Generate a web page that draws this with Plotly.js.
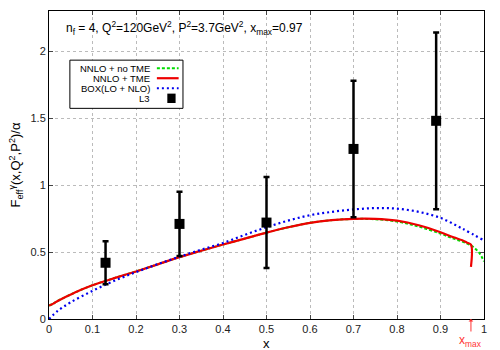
<!DOCTYPE html>
<html>
<head>
<meta charset="utf-8">
<script src="https://cdn.plot.ly/plotly-3.0.1.min.js"></script>
<style>body{margin:0;padding:0;} #plot{width:500px;height:350px;}</style>
</head>
<body>
<div id="plot"></div>
<script>
// NNLO + TME (stops at x_max)
var xTme = [0, 0.01, 0.02, 0.03, 0.05, 0.075, 0.1, 0.15, 0.2, 0.25, 0.3, 0.35, 0.4, 0.45, 0.5, 0.55, 0.6, 0.65, 0.7, 0.75, 0.8, 0.85, 0.9, 0.93, 0.95, 0.96, 0.97, 0.97];
var yTme = [0.10, 0.115, 0.135, 0.152, 0.183, 0.22, 0.252, 0.305, 0.355, 0.408, 0.462, 0.51, 0.556, 0.6, 0.645, 0.685, 0.718, 0.738, 0.748, 0.748, 0.734, 0.70, 0.648, 0.61, 0.588, 0.572, 0.555, 0.39];

// NNLO + no TME
var xNoTme = [0, 0.01, 0.02, 0.03, 0.05, 0.075, 0.1, 0.15, 0.2, 0.25, 0.3, 0.35, 0.4, 0.45, 0.5, 0.55, 0.6, 0.65, 0.7, 0.75, 0.8, 0.85, 0.9, 0.93, 0.95, 0.96, 0.97, 0.98, 0.99, 1.0];
var yNoTme = [0.10, 0.115, 0.135, 0.152, 0.183, 0.22, 0.252, 0.305, 0.355, 0.408, 0.462, 0.51, 0.556, 0.6, 0.645, 0.685, 0.718, 0.738, 0.747, 0.745, 0.728, 0.69, 0.638, 0.60, 0.578, 0.565, 0.55, 0.525, 0.49, 0.43];

// BOX(LO + NLO)
var xBox = [0, 0.02, 0.05, 0.1, 0.15, 0.2, 0.25, 0.3, 0.35, 0.4, 0.45, 0.5, 0.55, 0.6, 0.65, 0.7, 0.75, 0.8, 0.85, 0.9, 0.95, 1.0];
var yBox = [0, 0.06, 0.125, 0.21, 0.285, 0.35, 0.41, 0.465, 0.518, 0.567, 0.628, 0.685, 0.735, 0.775, 0.80, 0.818, 0.828, 0.824, 0.80, 0.755, 0.675, 0.587];

// L3 data
var xL3 = [0.13, 0.3, 0.5, 0.7, 0.89];
var yL3 = [0.42, 0.71, 0.72, 1.27, 1.48];
var errUp = [0.16, 0.24, 0.34, 0.51, 0.66];
var errDown = [0.16, 0.24, 0.34, 0.51, 0.66];

var legendNames = ["NNLO + no TME", "NNLO + TME", "BOX(LO + NLO)", "L3"];
var legendRows = [1.873, 1.798, 1.723, 1.648];

var font = "Liberation Sans, Arial, sans-serif";

var traces = [
  {x: xNoTme, y: yNoTme, mode: "lines", line: {color: "#00dd00", width: 2, dash: "3px,2px", shape: "spline"}},
  {x: xTme, y: yTme, mode: "lines", line: {color: "#ee0000", width: 2.2, shape: "spline"}},
  {x: xBox, y: yBox, mode: "lines", line: {color: "#0000ee", width: 2.2, dash: "2px,3px", shape: "spline"}},
  {x: xL3, y: yL3, mode: "markers", marker: {symbol: "square", size: 10, color: "black"},
   error_y: {type: "data", symmetric: false, array: errUp, arrayminus: errDown, color: "black", thickness: 2.5, width: 3}}
];

var shapes = [
  {type: "rect", xref: "x", yref: "y", x0: 0.048, x1: 0.308, y0: 1.573, y1: 1.933, line: {color: "black", width: 1}, fillcolor: "white", layer: "above"},
  {type: "line", xref: "x", yref: "y", x0: 0.248, x1: 0.298, y0: legendRows[0], y1: legendRows[0], line: {color: "#00dd00", width: 2, dash: "3px,2px"}},
  {type: "line", xref: "x", yref: "y", x0: 0.248, x1: 0.298, y0: legendRows[1], y1: legendRows[1], line: {color: "#ee0000", width: 2.2}},
  {type: "line", xref: "x", yref: "y", x0: 0.248, x1: 0.298, y0: legendRows[2], y1: legendRows[2], line: {color: "#0000ee", width: 2.2, dash: "2px,3px"}},
  {type: "rect", xref: "x", yref: "y", x0: 0.272, x1: 0.291, y0: legendRows[3] - 0.035, y1: legendRows[3] + 0.035, line: {width: 0}, fillcolor: "black"}
];

var annotations = [
  {xref: "x", yref: "y", x: 0.035, y: 2.17, xanchor: "left", yanchor: "middle", showarrow: false,
   text: "n<sub>f</sub> = 4, Q<sup>2</sup>=120GeV<sup>2</sup>, P<sup>2</sup>=3.7GeV<sup>2</sup>, x<sub>max</sub>=0.97",
   font: {family: font, size: 12, color: "black"}},
  {xref: "x", yref: "y", x: 0.97, y: 0, ax: 0, ay: 22, showarrow: true, arrowhead: 1, arrowsize: 0.8, arrowwidth: 1, arrowcolor: "#ff3333",
   text: "x<sub>max</sub>", font: {family: font, size: 12, color: "#ff3333"}},
  {xref: "paper", yref: "paper", x: 0.5, y: -0.081, xanchor: "center", yanchor: "middle", showarrow: false,
   text: "x", font: {family: font, size: 13, color: "black"}}
];
for (var i = 0; i < legendNames.length; i++) {
  annotations.push({xref: "x", yref: "y", x: 0.236, y: legendRows[i], xanchor: "right", yanchor: "middle", showarrow: false,
    text: legendNames[i], font: {family: font, size: 9.5, color: "black"}});
}

var layout = {
  width: 500, height: 350,
  margin: {l: 49, r: 16, t: 11, b: 31},
  paper_bgcolor: "white", plot_bgcolor: "white",
  showlegend: false,
  font: {family: font, size: 11, color: "#222"},
  xaxis: {
    range: [0, 1], dtick: 0.1, tick0: 0, tickformat: "~g",
    showline: true, linecolor: "black", linewidth: 1, mirror: "ticks",
    ticks: "inside", ticklen: 4, tickcolor: "#444",
    showgrid: true, gridcolor: "#bbb", griddash: "dot", gridwidth: 1, zeroline: false
  },
  yaxis: {
    range: [0, 2.3], dtick: 0.5, tick0: 0,
    showline: true, linecolor: "black", linewidth: 1, mirror: "ticks",
    ticks: "inside", ticklen: 4, tickcolor: "#444",
    showgrid: true, gridcolor: "#bbb", griddash: "dot", gridwidth: 1, zeroline: false,
    title: {text: "F<sub>eff</sub><sup>γ</sup>(x,Q<sup>2</sup>,P<sup>2</sup>)/α", font: {family: font, size: 13, color: "black"}, standoff: 6}
  },
  shapes: shapes,
  annotations: annotations
};

Plotly.newPlot("plot", traces, layout, {staticPlot: true});
</script>
</body>
</html>
